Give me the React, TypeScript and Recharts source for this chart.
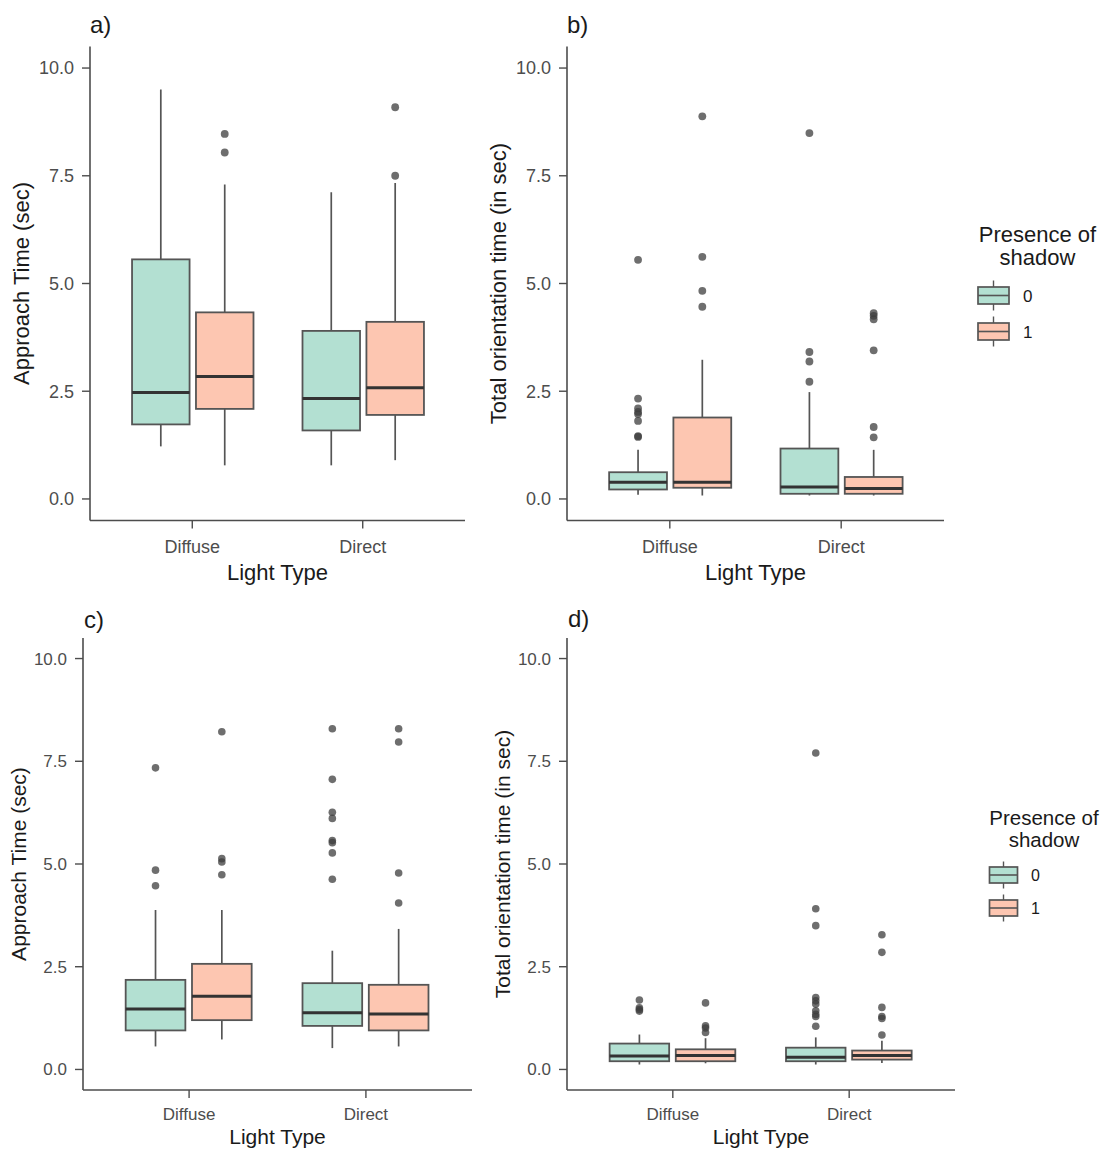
import { BarChart, Bar, XAxis, YAxis } from 'recharts';

type BoxStats = { lo: number; q1: number; med: number; q3: number; hi: number; out: number[] };

const lightTypes = ['Diffuse', 'Direct'];
const shadowLevels = ['0', '1'];
const shadowFills = ['#b3e0d2', '#fdc6b1'];
const yTicks = [0, 2.5, 5, 7.5, 10];
const yDomain: [number, number] = [-0.5, 10.5];

// a) approach time, first set
const approachA0: BoxStats[] = [
  { lo: 1.22, q1: 1.73, med: 2.47, q3: 5.56, hi: 9.5, out: [] },
  { lo: 0.78, q1: 1.59, med: 2.33, q3: 3.9, hi: 7.12, out: [] },
];
const approachA1: BoxStats[] = [
  { lo: 0.78, q1: 2.09, med: 2.84, q3: 4.33, hi: 7.3, out: [8.47, 8.04] },
  { lo: 0.9, q1: 1.95, med: 2.58, q3: 4.11, hi: 7.33, out: [9.09, 7.5] },
];

// b) total orientation time, first set
const orientB0: BoxStats[] = [
  { lo: 0.1, q1: 0.22, med: 0.39, q3: 0.62, hi: 1.14, out: [5.55, 2.33, 2.1, 2.02, 1.97, 1.81, 1.46, 1.44] },
  { lo: 0.08, q1: 0.12, med: 0.28, q3: 1.17, hi: 2.48, out: [8.49, 3.41, 3.19, 2.72] },
];
const orientB1: BoxStats[] = [
  { lo: 0.08, q1: 0.26, med: 0.39, q3: 1.89, hi: 3.23, out: [8.88, 5.62, 4.83, 4.46] },
  { lo: 0.08, q1: 0.12, med: 0.24, q3: 0.51, hi: 1.14, out: [4.31, 4.25, 4.17, 3.45, 1.67, 1.43] },
];

// c) approach time, second set
const approachC0: BoxStats[] = [
  { lo: 0.56, q1: 0.95, med: 1.47, q3: 2.18, hi: 3.88, out: [7.34, 4.85, 4.47] },
  { lo: 0.52, q1: 1.06, med: 1.38, q3: 2.1, hi: 2.89, out: [8.29, 7.06, 6.26, 6.11, 5.57, 5.52, 5.27, 4.63] },
];
const approachC1: BoxStats[] = [
  { lo: 0.73, q1: 1.2, med: 1.78, q3: 2.57, hi: 3.88, out: [8.22, 5.13, 5.05, 4.74] },
  { lo: 0.56, q1: 0.95, med: 1.35, q3: 2.06, hi: 3.42, out: [8.29, 7.97, 4.78, 4.05] },
];

// d) total orientation time, second set
const orientD0: BoxStats[] = [
  { lo: 0.12, q1: 0.2, med: 0.33, q3: 0.63, hi: 0.85, out: [1.69, 1.5, 1.46, 1.42] },
  { lo: 0.12, q1: 0.2, med: 0.3, q3: 0.53, hi: 0.78, out: [7.7, 3.91, 3.5, 1.75, 1.67, 1.59, 1.43, 1.34, 1.29, 1.05] },
];
const orientD1: BoxStats[] = [
  { lo: 0.15, q1: 0.2, med: 0.34, q3: 0.49, hi: 0.76, out: [1.62, 1.06, 1.01, 0.9] },
  { lo: 0.16, q1: 0.24, med: 0.34, q3: 0.46, hi: 0.7, out: [3.28, 2.85, 1.51, 1.29, 1.24, 0.84] },
];

const FONT = '"Liberation Sans", Arial, sans-serif';
const AXIS = '#4d4d4d';
const BOX_LINE = '#555';

function BoxShape(props: any) {
  const { x, y, width, height, stats, fill, r } = props;
  if (!stats || !height) return null;
  const { lo, q1, med, q3, hi, out } = stats as BoxStats;
  // bar spans q1..q3, so its pixel height gives the y scale
  const perUnit = height / (q3 - q1);
  const toY = (v: number) => y + (q3 - v) * perUnit;
  const cx = x + width / 2;
  return (
    <g>
      <line x1={cx} x2={cx} y1={toY(hi)} y2={y} stroke={BOX_LINE} strokeWidth={1.7} />
      <line x1={cx} x2={cx} y1={y + height} y2={toY(lo)} stroke={BOX_LINE} strokeWidth={1.7} />
      <rect x={x} y={y} width={width} height={height} fill={fill} stroke={BOX_LINE} strokeWidth={1.8} />
      <line x1={x} x2={x + width} y1={toY(med)} y2={toY(med)} stroke="#333" strokeWidth={3} />
      {out.map((v, i) => (
        <circle key={i} cx={cx} cy={toY(v)} r={r} fill="#3d3d3d" fillOpacity={0.75} />
      ))}
    </g>
  );
}

interface Frame {
  left: number; top: number; width: number; height: number;
  plotLeft: number; plotRight: number; plotTop: number; plotBottom: number;
  tickSize: number; xTickMargin: number; pointR: number;
}

function BoxPanel({ frame, shadow0, shadow1 }: { frame: Frame; shadow0: BoxStats[]; shadow1: BoxStats[] }) {
  const band = (frame.plotRight - frame.plotLeft) / 2.2;
  const data = lightTypes.map((light, i) => ({ light, s0: shadow0[i], s1: shadow1[i] }));
  const tickStyle = { fill: AXIS, fontSize: frame.tickSize, fontFamily: FONT };
  return (
    <div style={{ position: 'absolute', left: frame.left, top: frame.top }}>
      <BarChart
        width={frame.width}
        height={frame.height}
        data={data}
        barGap={band * 0.0375}
        margin={{
          top: frame.plotTop - frame.top,
          left: frame.plotLeft - frame.left - 60,
          right: frame.left + frame.width - frame.plotRight,
          bottom: frame.top + frame.height - frame.plotBottom - 40,
        }}
      >
        <XAxis
          dataKey="light"
          height={40}
          padding={{ left: band * 0.1, right: band * 0.1 }}
          tick={tickStyle}
          tickSize={8}
          tickMargin={frame.xTickMargin}
          axisLine={{ stroke: AXIS, strokeWidth: 1.6 }}
          tickLine={{ stroke: AXIS, strokeWidth: 1.4 }}
        />
        <YAxis
          type="number"
          width={60}
          domain={yDomain}
          ticks={yTicks}
          interval={0}
          allowDataOverflow
          tickFormatter={(v: number) => v.toFixed(1)}
          tick={tickStyle}
          tickSize={8}
          tickMargin={8}
          axisLine={{ stroke: AXIS, strokeWidth: 1.6 }}
          tickLine={{ stroke: AXIS, strokeWidth: 1.4 }}
        />
        {shadowLevels.map((lvl, k) => (
          <Bar
            key={lvl}
            dataKey={(d: any) => [d[`s${k}`].q1, d[`s${k}`].q3]}
            barSize={band * 0.3375}
            isAnimationActive={false}
            shape={(p: any) => <BoxShape {...p} stats={p.payload[`s${k}`]} fill={shadowFills[k]} r={frame.pointR} />}
          />
        ))}
      </BarChart>
    </div>
  );
}

interface LegendSpec {
  titleX: number; titleY1: number; titleY2: number; titleSize: number;
  iconX: number; iconW: number; keyYs: number[]; boxHalf: number; whiskerHalf: number;
  labelX: number; labelSize: number;
}

function ShadowLegend({ s }: { s: LegendSpec }) {
  const cx = s.iconX + s.iconW / 2;
  return (
    <g fontFamily={FONT}>
      <text x={s.titleX} y={s.titleY1} fontSize={s.titleSize} textAnchor="middle" fill="#1a1a1a">Presence of</text>
      <text x={s.titleX} y={s.titleY2} fontSize={s.titleSize} textAnchor="middle" fill="#1a1a1a">shadow</text>
      {shadowLevels.map((lvl, k) => {
        const cy = s.keyYs[k];
        return (
          <g key={lvl}>
            <line x1={cx} x2={cx} y1={cy - s.whiskerHalf} y2={cy + s.whiskerHalf} stroke={BOX_LINE} strokeWidth={1.4} />
            <rect x={s.iconX} y={cy - s.boxHalf} width={s.iconW} height={s.boxHalf * 2} fill={shadowFills[k]} stroke={BOX_LINE} strokeWidth={1.7} />
            <line x1={s.iconX} x2={s.iconX + s.iconW} y1={cy} y2={cy} stroke="#555" strokeWidth={1.6} />
            <text x={s.labelX} y={cy + 6} fontSize={s.labelSize} fill="#1a1a1a">{lvl}</text>
          </g>
        );
      })}
    </g>
  );
}

const frameA: Frame = { left: 0, top: 0, width: 480, height: 600, plotLeft: 90, plotRight: 465, plotTop: 46.5, plotBottom: 520.5, tickSize: 18, xTickMargin: 11.5, pointR: 3.9 };
const frameB: Frame = { left: 480, top: 0, width: 480, height: 600, plotLeft: 567, plotRight: 944, plotTop: 46.5, plotBottom: 520.5, tickSize: 18, xTickMargin: 11.5, pointR: 3.9 };
const frameC: Frame = { left: 0, top: 600, width: 480, height: 549, plotLeft: 83, plotRight: 472, plotTop: 638, plotBottom: 1090, tickSize: 17, xTickMargin: 10, pointR: 3.8 };
const frameD: Frame = { left: 480, top: 600, width: 490, height: 549, plotLeft: 567, plotRight: 955, plotTop: 638, plotBottom: 1090, tickSize: 17, xTickMargin: 10, pointR: 3.8 };

const legendTop: LegendSpec = { titleX: 1037.5, titleY1: 241.5, titleY2: 265, titleSize: 22, iconX: 978, iconW: 31, keyYs: [295.5, 331.5], boxHalf: 8.5, whiskerHalf: 15, labelX: 1023, labelSize: 17 };
const legendBottom: LegendSpec = { titleX: 1044, titleY1: 825, titleY2: 847, titleSize: 20.5, iconX: 989.5, iconW: 28, keyYs: [875, 908], boxHalf: 8, whiskerHalf: 13.5, labelX: 1031, labelSize: 16 };

function YTitle({ x, y, size, text }: { x: number; y: number; size: number; text: string }) {
  return (
    <text x={x} y={y} fontSize={size} textAnchor="middle" transform={`rotate(-90, ${x}, ${y})`} fill="#1a1a1a">
      {text}
    </text>
  );
}

export default function App() {
  return (
    <div style={{ position: 'absolute', left: 0, top: 0, width: 1104, height: 1149, background: '#fff', overflow: 'hidden' }}>
      <BoxPanel frame={frameA} shadow0={approachA0} shadow1={approachA1} />
      <BoxPanel frame={frameB} shadow0={orientB0} shadow1={orientB1} />
      <BoxPanel frame={frameC} shadow0={approachC0} shadow1={approachC1} />
      <BoxPanel frame={frameD} shadow0={orientD0} shadow1={orientD1} />
      <svg width={1104} height={1149} style={{ position: 'absolute', left: 0, top: 0, pointerEvents: 'none' }}>
        <g fontFamily={FONT} fill="#1a1a1a">
          <text x={90} y={33} fontSize={24}>a)</text>
          <text x={567} y={33} fontSize={24}>b)</text>
          <text x={84} y={628} fontSize={24}>c)</text>
          <text x={568} y={627} fontSize={24}>d)</text>
          <YTitle x={29} y={283.5} size={22} text="Approach Time (sec)" />
          <YTitle x={506} y={283.5} size={22} text="Total orientation time (in sec)" />
          <YTitle x={26} y={864} size={21} text="Approach Time (sec)" />
          <YTitle x={509.5} y={864} size={21} text="Total orientation time (in sec)" />
          <text x={277.5} y={579.5} fontSize={22} textAnchor="middle">Light Type</text>
          <text x={755.5} y={579.5} fontSize={22} textAnchor="middle">Light Type</text>
          <text x={277.5} y={1144} fontSize={21} textAnchor="middle">Light Type</text>
          <text x={761} y={1144} fontSize={21} textAnchor="middle">Light Type</text>
        </g>
        <ShadowLegend s={legendTop} />
        <ShadowLegend s={legendBottom} />
      </svg>
    </div>
  );
}
